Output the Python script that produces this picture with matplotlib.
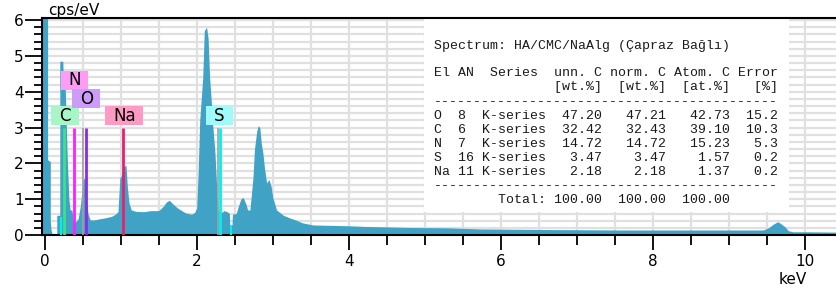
import matplotlib.pyplot as plt
from matplotlib.patches import Rectangle
from matplotlib.ticker import MultipleLocator

# EDS spectrum (keV, cps/eV)
energy = [-0.04, 0.04, 0.04, 0.075, 0.075, 0.085, 0.096, 0.10, 0.16, 0.16, 0.20,
          0.20, 0.24, 0.245, 0.27, 0.28, 0.30, 0.32, 0.335, 0.36, 0.38, 0.40,
          0.44, 0.47, 0.49, 0.51, 0.53, 0.55, 0.57, 0.60, 0.65, 0.72, 0.80, 0.88,
          0.93, 0.965, 0.99, 1.01, 1.04, 1.07, 1.09, 1.11, 1.14, 1.20, 1.30, 1.40,
          1.50, 1.56, 1.60, 1.64, 1.68, 1.75, 1.85, 1.93, 1.97, 2.00, 2.02, 2.04,
          2.08, 2.10, 2.13, 2.15, 2.17, 2.19, 2.21, 2.24, 2.27, 2.28, 2.32, 2.36,
          2.40, 2.43, 2.435, 2.465, 2.47, 2.52, 2.54, 2.58, 2.61, 2.65, 2.67, 2.70,
          2.74, 2.76, 2.79, 2.81, 2.83, 2.85, 2.87, 2.89, 2.92, 2.95, 2.98, 3.00,
          3.05, 3.14, 3.22, 3.30, 3.39, 3.53, 3.75, 3.97, 4.20, 4.41, 4.80, 5.29,
          5.72, 6.20, 6.80, 7.57, 8.20, 8.80, 9.45, 9.52, 9.58, 9.64, 9.68, 9.74,
          9.78, 9.84, 10.0, 10.42]
counts = [8.0, 8.0, 2.1, 2.05, 0.4, 0.15, 0.05, 0.0, 0.0, 0.55, 0.55,
          4.85, 4.85, 4.4, 4.2, 3.5, 2.0, 1.0, 0.7, 0.7, 0.33, 0.35,
          0.45, 0.8, 1.2, 1.55, 1.6, 1.0, 0.6, 0.42, 0.42, 0.45, 0.48, 0.52,
          0.58, 0.65, 1.6, 1.65, 1.9, 1.95, 1.3, 0.9, 0.7, 0.66, 0.65, 0.68,
          0.68, 0.8, 0.92, 0.97, 0.88, 0.75, 0.62, 0.58, 0.62, 0.75, 1.8, 3.2,
          4.4, 5.7, 5.8, 5.5, 4.4, 3.8, 3.1, 2.3, 1.06, 0.7, 0.62, 0.68,
          0.65, 0.6, 0.28, 0.28, 0.58, 0.6, 0.75, 1.0, 1.05, 0.85, 0.7, 0.7,
          1.6, 2.4, 2.9, 3.05, 3.0, 2.55, 2.3, 1.9, 1.45, 1.55, 1.35, 1.05,
          0.7, 0.55, 0.48, 0.42, 0.34, 0.28, 0.27, 0.26, 0.24, 0.23, 0.21, 0.2,
          0.17, 0.16, 0.15, 0.14, 0.14, 0.14, 0.14, 0.2, 0.3, 0.37, 0.32, 0.22,
          0.12, 0.09, 0.09, 0.08]

# element markers
elements = ["C", "N", "O", "Na", "S"]
line_kev = [0.26, 0.39, 0.54, 1.035, 2.31]
line_colors = ["#3ee08a", "#ff20ff", "#8a2be2", "#e8206e", "#00f0f0"]
box_colors = ["#a8f5c8", "#ff9cf5", "#cc9cf8", "#ff9ac4", "#a0fafa"]
box_bottom = [3.06, 4.05, 3.54, 3.06, 3.06]
box_width = [0.37, 0.35, 0.37, 0.5, 0.36]
box_center = [0.27, 0.39, 0.55, 1.05, 2.30]

# quantification table
title = "Spectrum: HA/CMC/NaAlg (Çapraz Bağlı)"
tab_el = ["O", "C", "N", "S", "Na"]
tab_an = [8, 6, 7, 16, 11]
unn_c = ["47.20", "32.42", "14.72", "3.47", "2.18"]
norm_c = ["47.21", "32.43", "14.72", "3.47", "2.18"]
atom_c = ["42.73", "39.10", "15.23", "1.57", "1.37"]
error = ["15.2", "10.3", "5.3", "0.2", "0.2"]

W, H = 837, 291
fig = plt.figure(figsize=(W / 100, H / 100), dpi=100)
ax = fig.add_axes([42 / W, 56 / H, (W - 42) / W, 217 / H])
ax.set_xlim(-0.034, 10.42)
ax.set_ylim(0, 6.056)

ax.xaxis.set_major_locator(MultipleLocator(2))
ax.xaxis.set_minor_locator(MultipleLocator(0.5))
ax.yaxis.set_major_locator(MultipleLocator(1))
ax.yaxis.set_minor_locator(MultipleLocator(0.2))
ax.set_axisbelow(True)
ax.grid(which="both", color="#e0e0e0", lw=1.6)
ax.tick_params(axis="y", which="major", length=12, width=1.3, labelsize=11, pad=1)
ax.tick_params(axis="y", which="minor", length=6, width=1.3)
ax.tick_params(axis="x", which="major", length=11, width=1.3, labelsize=11, pad=3)
ax.tick_params(axis="x", which="minor", length=7, width=1.3)
for s in ["left", "bottom", "top"]:
    ax.spines[s].set_linewidth(1.5)
ax.spines["right"].set_visible(False)

# white table background
ax.add_patch(Rectangle((4.99, 0.65), 4.8, 5.5, facecolor="white", edgecolor="none", zorder=1))

ax.fill_between(energy, counts, color="#40a3c6", lw=0, zorder=2)

# marker lines and labels
ax.vlines([0.505, 2.285], 0, 3.0, color="#a0a0a0", lw=1.2, zorder=3)
ax.vlines([0.21, 2.45], 0, [0.5, 0.28], color="#00f0f0", lw=1.5, zorder=3)
for i, el in enumerate(elements):
    ax.vlines(line_kev[i], 0, 3.0, color=line_colors[i], lw=2, zorder=4)
    ax.add_patch(Rectangle((box_center[i] - box_width[i] / 2, box_bottom[i]), box_width[i], 0.53,
                           facecolor=box_colors[i], edgecolor="none", zorder=5))
    ax.text(box_center[i], box_bottom[i] + 0.265, el, ha="center", va="center",
            fontsize=12, zorder=6)

fig.text(48 / W, 1 - 15 / H, "cps/eV", fontsize=11, ha="left", va="baseline")
fig.text(793 / W, 1 - 280 / H, "keV", fontsize=11, ha="center", va="center")

# table text, monospace
rows = [title, "",
        "El AN  Series  unn. C norm. C Atom. C Error",
        " " * 15 + "[wt.%]  [wt.%]  [at.%]   [%]",
        "-" * 43]
for i in range(len(tab_el)):
    rows.append(f"{tab_el[i]:<2} {tab_an[i]:<2} K-series{unn_c[i]:>7}{norm_c[i]:>8}{atom_c[i]:>8}{error[i]:>6}")
rows.append("-" * 43)
rows.append(" " * 8 + "Total:" + f"{'100.00':>7}{'100.00':>8}{'100.00':>8}")
row_y = [45.7, 59.5, 73.3, 87.3, 101.7, 115.7, 129.7, 144, 158, 171.7, 185.7, 200]
for txt, y in zip(rows, row_y):
    fig.text(434 / W, 1 - y / H, txt, family="Liberation Mono", fontsize=9.5,
             color="#1a1a1a", ha="left", va="center")

fig.savefig("out.png", dpi=100)
